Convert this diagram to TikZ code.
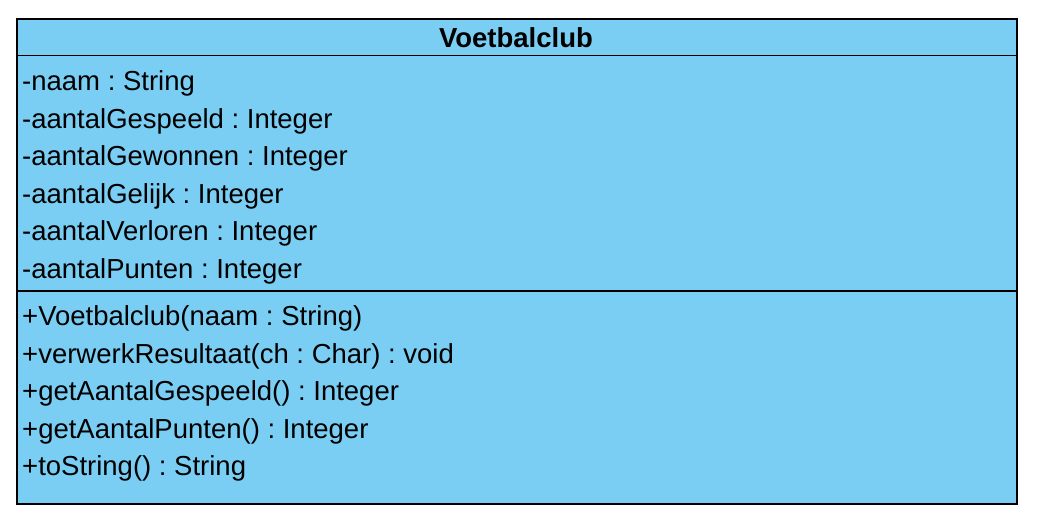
\documentclass[tikz,border=0pt]{standalone}
\usepackage{fontspec}
\setmainfont{Liberation Sans}
\frenchspacing
\definecolor{classfill}{HTML}{7ACEF4}
\begin{document}
\begin{tikzpicture}[x=1pt,y=-1pt,
  classbox/.style={draw=black,line width=1.6pt,fill=classfill,rectangle,inner sep=0pt,minimum width=1000pt,minimum height=485pt,anchor=north west},
  divider/.style={draw=black,line width=1.6pt},
  member/.style={anchor=base west,inner sep=0pt,font=\fontsize{27.5}{30}\selectfont\frenchspacing},
  title/.style={anchor=base,inner sep=0pt,font=\fontsize{27.5}{30}\selectfont\bfseries}]
\useasboundingbox (0,0) rectangle (1039,520);
\node[classbox] (cls) at (16,18) {};
\coordinate (d1l) at (16,55.5); \coordinate (d1r) at (1016,55.5);
\coordinate (d2l) at (16,291); \coordinate (d2r) at (1016,291);
\draw[divider] (d1l) -- (d1r);
\draw[divider] (d2l) -- (d2r);
\node[title] (t) at (516,47.5) {Voetbalclub};
\node[member] (a1) at (22,90.5) {-naam : String};
\node[member] (a2) at (22,128) {-aantalGespeeld : Integer};
\node[member] (a3) at (22,165.5) {-aantalGewonnen : Integer};
\node[member] (a4) at (22,203) {-aantalGelijk : Integer};
\node[member] (a5) at (22,240.5) {-aantalVerloren : Integer};
\node[member] (a6) at (22,278) {-aantalPunten : Integer};
\node[member] (m1) at (22,325.5) {+Voetbalclub(naam : String)};
\node[member] (m2) at (22,363) {+verwerkResultaat(ch : Char) : void};
\node[member] (m3) at (22,400.5) {+getAantalGespeeld() : Integer};
\node[member] (m4) at (22,438) {+getAantalPunten() : Integer};
\node[member] (m5) at (22,475.5) {+toString() : String};
\end{tikzpicture}
\end{document}
